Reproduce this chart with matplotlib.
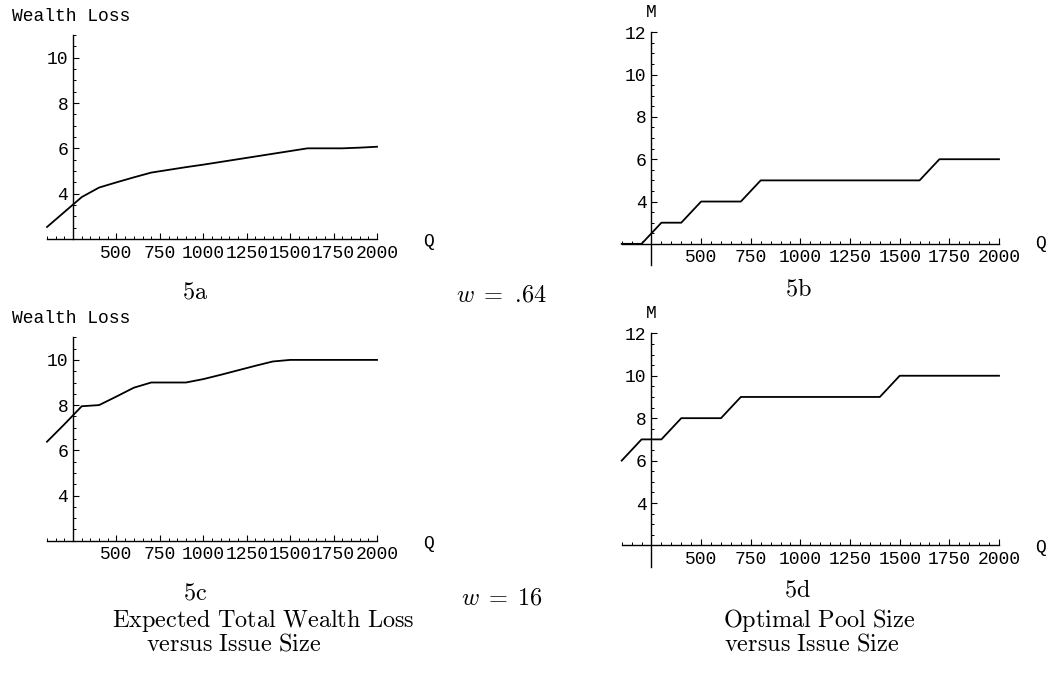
import numpy as np
import matplotlib
matplotlib.use("Agg")
import matplotlib.pyplot as plt

# data
issue_size = [100, 200, 300, 400, 500, 600, 700, 800, 900, 1000,
              1100, 1200, 1300, 1400, 1500, 1600, 1700, 1800, 1900, 2000]
loss_w064 = [2.53, 3.19, 3.85, 4.27, 4.50, 4.72, 4.93, 5.05, 5.17, 5.28,
             5.40, 5.52, 5.64, 5.76, 5.88, 6.00, 6.00, 6.00, 6.03, 6.07]
pool_w064 = [2, 2, 3, 3, 4, 4, 4, 5, 5, 5, 5, 5, 5, 5, 5, 5, 6, 6, 6, 6]
loss_w16 = [6.38, 7.15, 7.95, 8.00, 8.38, 8.77, 9.00, 9.00, 9.00, 9.15,
            9.34, 9.54, 9.74, 9.93, 10.0, 10.0, 10.0, 10.0, 10.0, 10.0]
pool_w16 = [6, 7, 7, 8, 8, 8, 9, 9, 9, 9, 9, 9, 9, 9, 10, 10, 10, 10, 10, 10]

x_major = [500, 750, 1000, 1250, 1500, 1750, 2000]
loss_yticks = [4, 6, 8, 10]
pool_yticks = [4, 6, 8, 10, 12]

plt.rcParams["font.family"] = "Liberation Mono"
plt.rcParams["mathtext.fontset"] = "cm"

W, H = 1052, 675
fig = plt.figure(figsize=(W / 100, H / 100), dpi=100)


def rect(x0, x1, ytop, ybot):
    return [x0 / W, (H - ybot) / H, (x1 - x0) / W, (ybot - ytop) / H]


def txt(x, y, s, **kw):
    kw.setdefault("ha", "center")
    kw.setdefault("va", "center")
    fig.text(x / W, 1 - y / H, s, **kw)


def panel(r, y, ylim, yticks):
    ax = fig.add_axes(r)
    ax.plot(issue_size, y, color="k", lw=1.3, clip_on=False, zorder=3)
    ax.set_xlim(100, 2000)
    ax.set_ylim(*ylim)
    for s in ("top", "right"):
        ax.spines[s].set_visible(False)
    ax.spines["left"].set_position(("data", 250))
    ax.spines["bottom"].set_position(("data", 2))
    for s in ("left", "bottom"):
        ax.spines[s].set_linewidth(1.0)
    ax.set_xticks(x_major)
    ax.set_xticks(np.arange(100, 2001, 50), minor=True)
    ax.set_yticks(yticks)
    ax.set_yticks(np.arange(2, ylim[1] + 0.01, 0.5), minor=True)
    ax.tick_params(which="major", direction="in", length=4, width=0.8,
                   labelsize=13)
    ax.tick_params(which="minor", direction="in", length=2.2, width=0.7)
    ax.tick_params(axis="x", pad=4)
    ax.tick_params(axis="y", pad=3.5)
    ax.patch.set_visible(False)
    return ax


panel(rect(47, 377, 35, 239), loss_w064, (2, 11), loss_yticks)
panel(rect(621.7, 999, 32.3, 265), pool_w064, (1, 12), pool_yticks)
panel(rect(47, 377, 337.3, 540.7), loss_w16, (2, 11), loss_yticks)
panel(rect(621.7, 999, 333.3, 566.7), pool_w16, (1, 12), pool_yticks)

fs = 13
txt(12, 16.7, "Wealth Loss", ha="left", fontsize=fs)
txt(12, 318.3, "Wealth Loss", ha="left", fontsize=fs)
txt(651.7, 12.3, "M", fontsize=fs)
txt(651.7, 313.3, "M", fontsize=fs)
txt(428, 241, "Q", fontsize=fs)
txt(428, 543, "Q", fontsize=fs)
txt(1040, 244, "Q", fontsize=fs)
txt(1040, 548, "Q", fontsize=fs)

lf = 17.5
txt(195, 291.7, r"$\mathrm{5a}$", fontsize=lf)
txt(798, 289, r"$\mathrm{5b}$", fontsize=lf)
txt(195, 593, r"$\mathrm{5c}$", fontsize=lf)
txt(797, 590, r"$\mathrm{5d}$", fontsize=lf)
txt(501.7, 295, r"$w\;=$ .64", fontsize=lf, family="cmr10")
txt(501.7, 597.7, r"$w\;=\;16$", fontsize=lf)
txt(263, 620, r"$\mathrm{Expected\ Total\ Wealth\ Loss}$", fontsize=lf)
txt(234, 644, r"$\mathrm{versus\ Issue\ Size}$", fontsize=lf)
txt(819, 620, r"$\mathrm{Optimal\ Pool\ Size}$", fontsize=lf)
txt(812, 644, r"$\mathrm{versus\ Issue\ Size}$", fontsize=lf)

fig.savefig("out.png", dpi=100)
